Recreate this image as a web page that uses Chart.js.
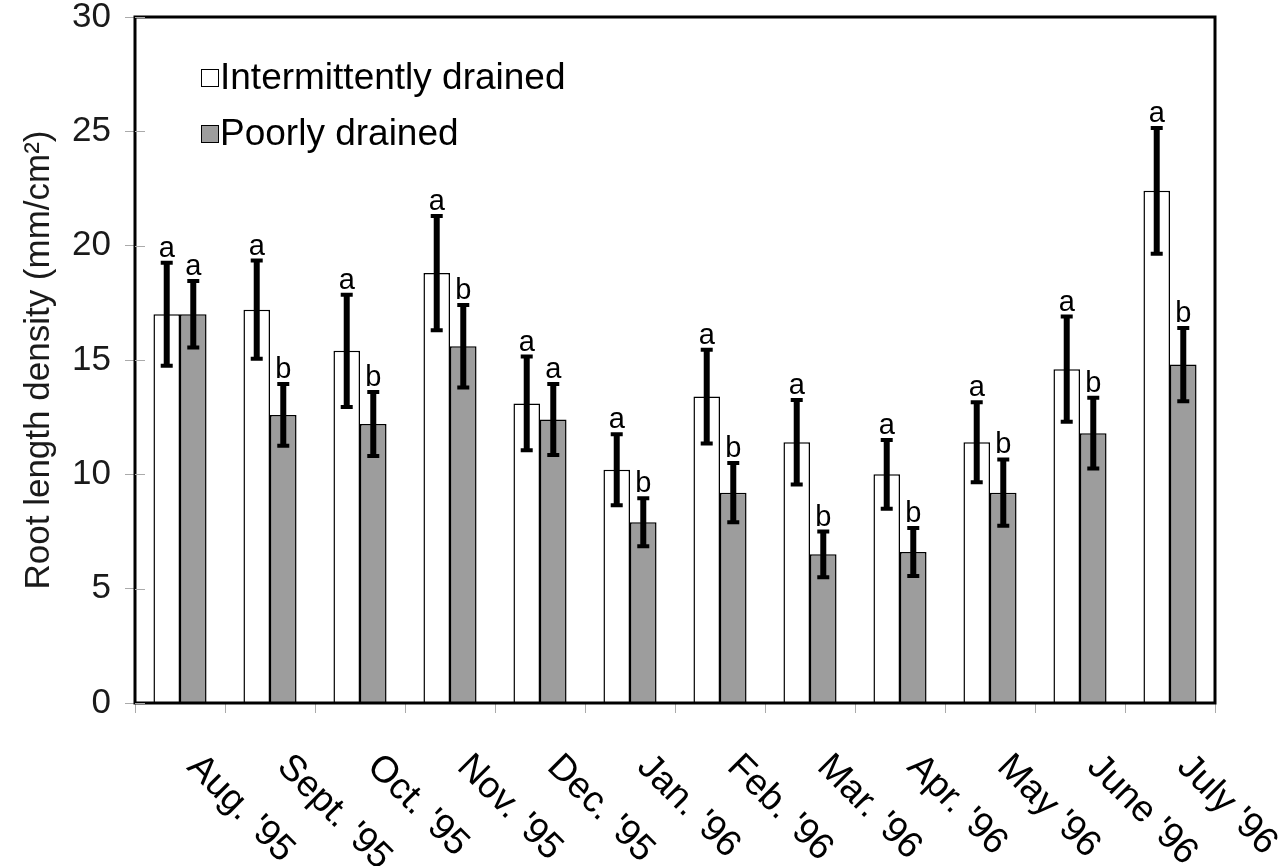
<!DOCTYPE html>
<html>
<head>
<meta charset="utf-8">
<script src="https://cdn.jsdelivr.net/npm/chart.js@4/dist/chart.umd.min.js"></script>
<style>
  html, body { margin: 0; padding: 0; background: #fff; }
  #wrap { width: 1285px; height: 866px; }
</style>
</head>
<body>
<div id="wrap"><canvas id="chart" width="1285" height="866"></canvas></div>
<script>
const months = ["Aug. '95", "Sept. '95", "Oct. '95", "Nov. '95", "Dec. '95", "Jan. '96",
                "Feb. '96", "Mar. '96", "Apr. '96", "May '96", "June '96", "July '96"];

const intermittent    = [17.0, 17.2, 15.4, 18.8, 13.1, 10.2, 13.4, 11.4, 10.0, 11.4, 14.6, 22.4];
const intermittentErr = [2.25, 2.15, 2.45, 2.5, 2.05, 1.55, 2.05, 1.85, 1.5, 1.75, 2.3, 2.75];
const intermittentSig = ['a', 'a', 'a', 'a', 'a', 'a', 'a', 'a', 'a', 'a', 'a', 'a'];

const poorly    = [17.0, 12.6, 12.2, 15.6, 12.4, 7.9, 9.2, 6.5, 6.6, 9.2, 11.8, 14.8];
const poorlyErr = [1.45, 1.35, 1.4, 1.8, 1.55, 1.05, 1.3, 1.0, 1.05, 1.45, 1.55, 1.6];
const poorlySig = ['a', 'b', 'b', 'b', 'a', 'b', 'b', 'b', 'b', 'b', 'b', 'b'];

const yMin = 0, yMax = 30, yStep = 5;

const FONT = '"Liberation Sans", Arial, sans-serif';
const GRAY = '#9d9d9d';

Chart.defaults.font.family = FONT;
Chart.defaults.color = '#1a1a1a';

const errors = [intermittentErr, poorlyErr];
const letters = [intermittentSig, poorlySig];

// error bars + significance letters, placed through the scales
const errorBars = {
  id: 'errorBars',
  afterDatasetsDraw(chart) {
    const ctx = chart.ctx;
    const y = chart.scales.y;
    ctx.save();
    chart.data.datasets.forEach((ds, di) => {
      const meta = chart.getDatasetMeta(di);
      meta.data.forEach((bar, i) => {
        const v = ds.data[i], e = errors[di][i];
        const top = y.getPixelForValue(v + e);
        const bot = y.getPixelForValue(v - e);
        ctx.strokeStyle = '#000';
        ctx.lineWidth = 6;
        ctx.beginPath();
        ctx.moveTo(bar.x, top);
        ctx.lineTo(bar.x, bot);
        ctx.stroke();
        ctx.lineWidth = 4;
        ctx.beginPath();
        ctx.moveTo(bar.x - 6, top); ctx.lineTo(bar.x + 6, top);
        ctx.moveTo(bar.x - 6, bot); ctx.lineTo(bar.x + 6, bot);
        ctx.stroke();

        ctx.fillStyle = '#000';
        ctx.font = '29px ' + FONT;
        ctx.textAlign = 'center';
        ctx.textBaseline = 'alphabetic';
        ctx.fillText(letters[di][i], bar.x, top - 6);
      });
    });
    ctx.restore();
  },
  afterDraw(chart) {
    const ctx = chart.ctx;
    const a = chart.chartArea;
    ctx.save();
    // frame
    ctx.strokeStyle = '#000';
    ctx.lineWidth = 3;
    ctx.strokeRect(a.left, a.top, a.right - a.left, a.bottom - a.top);

    // short inner tick marks on the y axis
    const y = chart.scales.y;
    ctx.strokeStyle = '#aaa';
    ctx.lineWidth = 1;
    y.ticks.forEach(t => {
      const py = Math.round(y.getPixelForValue(t.value)) + 0.5;
      ctx.beginPath();
      ctx.moveTo(a.left, py);
      ctx.lineTo(a.left + 10, py);
      ctx.stroke();
    });

    // rotated month labels
    const x = chart.scales.x;
    ctx.fillStyle = '#000';
    ctx.font = '37px ' + FONT;
    ctx.textAlign = 'left';
    ctx.textBaseline = 'top';
    months.forEach((m, i) => {
      const px = x.getPixelForValue(i);
      ctx.save();
      ctx.translate(px + 26, a.bottom + 45);
      ctx.rotate(Math.PI / 4);
      ctx.fillText(m, 0, 0);
      ctx.restore();
    });

    // legend
    const items = chart.data.datasets;
    ctx.font = '37px ' + FONT;
    ctx.textBaseline = 'middle';
    items.forEach((ds, i) => {
      const ly = 78 + i * 56;
      ctx.fillStyle = ds.backgroundColor;
      ctx.fillRect(201, ly - 9, 18, 18);
      ctx.lineWidth = 1;
      ctx.strokeStyle = '#000';
      ctx.strokeRect(201.5, ly - 8.5, 17, 17);
      ctx.fillStyle = '#000';
      ctx.fillText(ds.label, 220, ly + 1);
    });
    ctx.restore();
  }
};

new Chart(document.getElementById('chart'), {
  type: 'bar',
  data: {
    labels: months,
    datasets: [
      { label: 'Intermittently drained', data: intermittent, backgroundColor: '#ffffff',
        borderColor: '#000', borderWidth: 1.5 },
      { label: 'Poorly drained', data: poorly, backgroundColor: GRAY,
        borderColor: '#000', borderWidth: 1.5 }
    ]
  },
  options: {
    responsive: false,
    devicePixelRatio: 1,
    animation: false,
    layout: { padding: { top: 17, right: 70, left: 0, bottom: 0 } },
    datasets: { bar: { categoryPercentage: 0.59, barPercentage: 1.0 } },
    plugins: {
      legend: { display: false },
      tooltip: { enabled: false }
    },
    scales: {
      x: {
        offset: true,
        grid: { offset: true, drawOnChartArea: false, tickLength: 10, color: '#aaa' },
        border: { display: false },
        ticks: { display: false },
        afterFit: s => { s.height = 163; s.paddingLeft = 0; s.paddingRight = 0; }
      },
      y: {
        min: yMin, max: yMax,
        ticks: { stepSize: yStep, font: { size: 35 }, color: '#1a1a1a', padding: 14 },
        grid: { drawOnChartArea: false, tickLength: 10, color: '#aaa' },
        border: { display: false },
        title: { display: true, text: 'Root length density (mm/cm²)', font: { size: 35 },
                 color: '#1a1a1a', padding: { top: 18, bottom: 0 } },
        afterFit: s => { s.width = 135; s.paddingTop = 0; s.paddingBottom = 0; }
      }
    }
  },
  plugins: [errorBars]
});
</script>
</body>
</html>
